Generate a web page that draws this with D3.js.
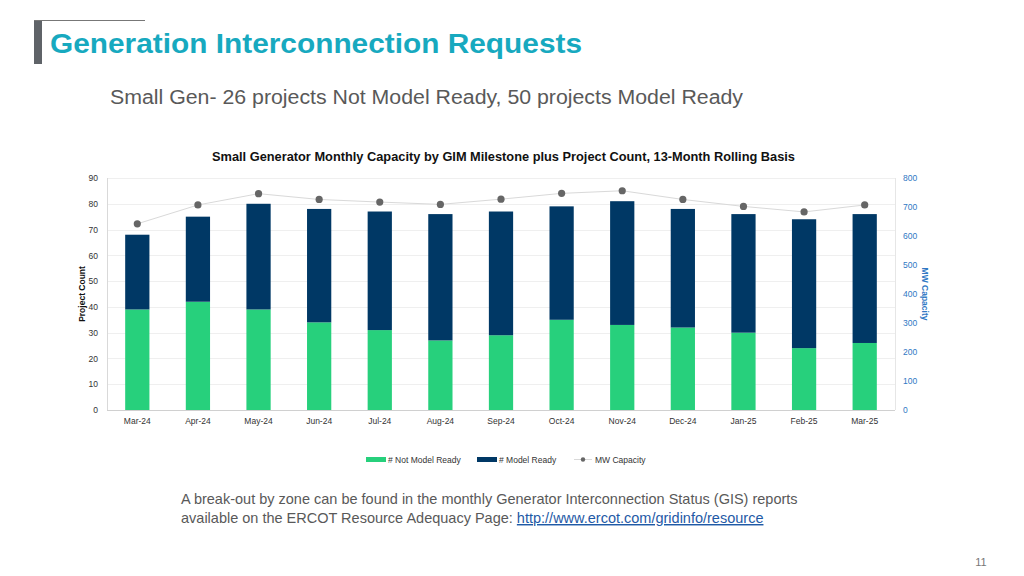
<!DOCTYPE html>
<html>
<head>
<meta charset="utf-8">
<script src="https://cdn.jsdelivr.net/npm/d3@7"></script>
<style>
  body { margin: 0; background: #fff; }
  svg { display: block; font-family: "Liberation Sans", Arial, sans-serif; }
</style>
</head>
<body>
<svg id="chart" width="1024" height="576"></svg>
<script>
// months on the x axis
const months = ["Mar-24","Apr-24","May-24","Jun-24","Jul-24","Aug-24","Sep-24","Oct-24","Nov-24","Dec-24","Jan-25","Feb-25","Mar-25"];
// project counts
const notModelReady = [39, 42, 39, 34, 31, 27, 29, 35, 33, 32, 30, 24, 26];
const modelReady    = [29, 33, 41, 44, 46, 49, 48, 44, 48, 46, 46, 50, 50];
// MW capacity (right axis)
const mwCapacity = [642, 707, 746, 726, 717, 709, 727, 747, 756, 726, 702, 683, 707];
const countTicks = [0, 10, 20, 30, 40, 50, 60, 70, 80, 90];
const mwTicks = [0, 100, 200, 300, 400, 500, 600, 700, 800];

const green = "#27d07c", navy = "#003865", dot = "#666666", blue = "#2f78c4";

const svg = d3.select("#chart");

// slide header
svg.append("rect").attr("x", 34).attr("y", 20).attr("width", 8).attr("height", 44).attr("fill", "#5f6368");
svg.append("line").attr("x1", 34).attr("x2", 145).attr("y1", 20.5).attr("y2", 20.5)
  .attr("stroke", "#777").attr("stroke-width", 1);
svg.append("text").attr("x", 50).attr("y", 53)
  .attr("font-size", 27).attr("font-weight", "bold").attr("fill", "#17a9bf")
  .attr("textLength", 532).attr("lengthAdjust", "spacingAndGlyphs")
  .text("Generation Interconnection Requests");
svg.append("text").attr("x", 110).attr("y", 104)
  .attr("font-size", 20).attr("fill", "#595959")
  .attr("textLength", 633).attr("lengthAdjust", "spacingAndGlyphs")
  .text("Small Gen- 26 projects Not Model Ready, 50 projects Model Ready");

// chart
const m = {left: 107, right: 895, top: 178, bottom: 410};

svg.append("text").attr("x", 212).attr("y", 161)
  .attr("font-size", 12.5).attr("font-weight", "bold").attr("fill", "#111")
  .attr("textLength", 583).attr("lengthAdjust", "spacingAndGlyphs")
  .text("Small Generator Monthly Capacity by GIM Milestone plus Project Count, 13-Month Rolling Basis");

const x = d3.scaleBand().domain(months).range([m.left, m.right]).paddingInner(0.6).paddingOuter(0.3);
const y = d3.scaleLinear().domain([0, 90]).range([m.bottom, m.top]);
const y2 = d3.scaleLinear().domain([0, 800]).range([m.bottom, m.top]);

// gridlines
svg.append("g").selectAll("line").data(countTicks.slice(1)).join("line")
  .attr("x1", m.left).attr("x2", m.right)
  .attr("y1", d => Math.round(y(d)) + 0.5).attr("y2", d => Math.round(y(d)) + 0.5)
  .attr("stroke", "#efefef");

// axis frame
svg.append("line").attr("x1", m.left + 0.5).attr("x2", m.left + 0.5).attr("y1", m.top).attr("y2", m.bottom)
  .attr("stroke", "#d9d9d9");
svg.append("line").attr("x1", m.right + 0.5).attr("x2", m.right + 0.5).attr("y1", m.top).attr("y2", m.bottom)
  .attr("stroke", "#e6e6e6");

// stacked bars
const rows = months.map((mo, i) => ({month: mo, nmr: notModelReady[i], mr: modelReady[i]}));
const stack = d3.stack().keys(["nmr", "mr"])(rows);
const colors = {nmr: green, mr: navy};
svg.append("g").selectAll("g").data(stack).join("g")
  .attr("fill", s => colors[s.key])
  .selectAll("rect").data(s => s).join("rect")
  .attr("x", d => x(d.data.month))
  .attr("width", x.bandwidth())
  .attr("y", d => y(d[1]))
  .attr("height", d => y(d[0]) - y(d[1]));

svg.append("line").attr("x1", m.left).attr("x2", m.right).attr("y1", m.bottom + 0.5).attr("y2", m.bottom + 0.5)
  .attr("stroke", "#d0d0d0");

// MW line
const cx = mo => x(mo) + x.bandwidth() / 2;
svg.append("path").datum(mwCapacity)
  .attr("fill", "none").attr("stroke", "#d9d9d9").attr("stroke-width", 1)
  .attr("d", d3.line().x((d, i) => cx(months[i])).y(d => y2(d)));
svg.append("g").selectAll("circle").data(mwCapacity).join("circle")
  .attr("cx", (d, i) => cx(months[i])).attr("cy", d => y2(d)).attr("r", 3.6).attr("fill", dot);

// left axis
const ax = svg.append("g").attr("transform", `translate(${m.left - 9},0)`)
  .call(d3.axisLeft(y).tickValues(countTicks).tickSize(0).tickPadding(0));
ax.select(".domain").remove();
ax.selectAll("text").attr("font-size", 8.5).attr("fill", "#333").attr("font-family", "Liberation Sans, Arial, sans-serif");

// right axis
const ar = svg.append("g").attr("transform", `translate(${m.right + 8},0)`)
  .call(d3.axisRight(y2).tickValues(mwTicks).tickSize(0).tickPadding(0));
ar.select(".domain").remove();
ar.selectAll("text").attr("font-size", 8.5).attr("fill", blue).attr("font-family", "Liberation Sans, Arial, sans-serif");

// x axis
const axb = svg.append("g").attr("transform", `translate(0,${m.bottom + 6})`)
  .call(d3.axisBottom(x).tickSize(0).tickPadding(0));
axb.select(".domain").remove();
axb.selectAll("text").attr("font-size", 8.5).attr("fill", "#333").attr("dy", "0.9em")
  .attr("font-family", "Liberation Sans, Arial, sans-serif");

// axis titles
svg.append("text").attr("transform", `translate(85,${(m.top + m.bottom) / 2}) rotate(-90)`)
  .attr("text-anchor", "middle").attr("font-size", 8.5).attr("font-weight", "bold").attr("fill", "#111")
  .text("Project Count");
svg.append("text").attr("transform", `translate(922,${(m.top + m.bottom) / 2}) rotate(90)`)
  .attr("text-anchor", "middle").attr("font-size", 8.5).attr("font-weight", "bold").attr("fill", blue)
  .text("MW Capacity");

// legend
const lg = svg.append("g").attr("font-size", 8.5).attr("fill", "#333");
lg.append("rect").attr("x", 366).attr("y", 457).attr("width", 20).attr("height", 5).attr("fill", green);
lg.append("text").attr("x", 388).attr("y", 462.5).text("# Not Model Ready");
lg.append("rect").attr("x", 477).attr("y", 457).attr("width", 20).attr("height", 5).attr("fill", navy);
lg.append("text").attr("x", 499).attr("y", 462.5).text("# Model Ready");
lg.append("line").attr("x1", 574).attr("x2", 592).attr("y1", 459.5).attr("y2", 459.5).attr("stroke", "#d9d9d9");
lg.append("circle").attr("cx", 583).attr("cy", 459.5).attr("r", 2.2).attr("fill", dot);
lg.append("text").attr("x", 595).attr("y", 462.5).text("MW Capacity");

// footnote
const fn = svg.append("g").attr("font-size", 14.5).attr("fill", "#595959");
fn.append("text").attr("x", 181).attr("y", 504)
  .text("A break-out by zone can be found in the monthly Generator Interconnection Status (GIS) reports");
const t2 = fn.append("text").attr("x", 181).attr("y", 523);
t2.append("tspan").text("available on the ERCOT Resource Adequacy Page: ");
t2.append("tspan").attr("fill", "#1f5aa6").attr("text-decoration", "underline")
  .text("http://www.ercot.com/gridinfo/resource");

svg.append("text").attr("x", 981).attr("y", 566).attr("text-anchor", "middle")
  .attr("font-size", 11).attr("fill", "#777").text("11");
</script>
</body>
</html>
